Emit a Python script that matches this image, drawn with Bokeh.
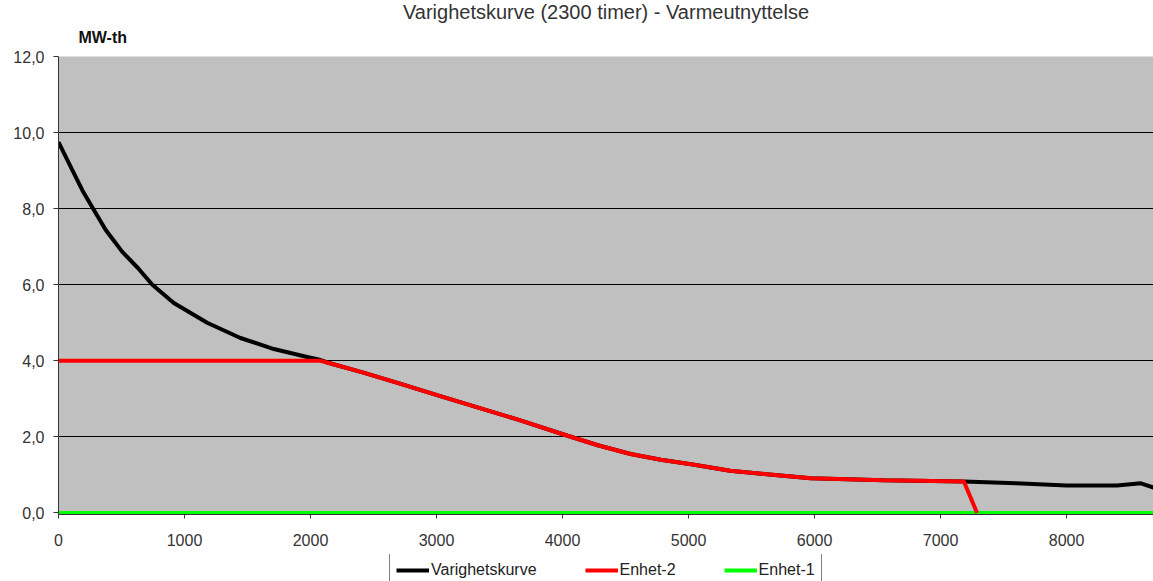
from bokeh.plotting import figure
from bokeh.models import Range1d, Legend, LegendItem, Title
from bokeh.layouts import column
from bokeh.embed import file_html
from bokeh.resources import INLINE

# ---- data ----
hours = [0, 100, 190, 275, 375, 505, 630, 745, 915, 1180, 1444, 1709, 1974, 2080,
         2160, 2420, 2690, 3030, 3640, 4040, 4280, 4540, 4780, 5020, 5330, 5620, 5970,
         6550, 7185, 7600, 8000, 8400, 8590, 8690, 8760]
varighetskurve = [9.75, 9.08, 8.48, 8.0, 7.44, 6.87, 6.44, 6.0, 5.52, 5.0, 4.60, 4.31, 4.10, 4.02,
                  3.93, 3.69, 3.42, 3.07, 2.46, 2.03, 1.78, 1.55, 1.40, 1.28,
                  1.11, 1.02, 0.91, 0.86, 0.83, 0.78, 0.72, 0.72, 0.78, 0.67, 0.62]

enhet2_hours = [0, 2080, 2160, 2420, 2690, 3030, 3640, 4040, 4280, 4540, 4780, 5020, 5330,
                5620, 5970, 6550, 7185, 7290]
enhet2 = [4.0, 4.0, 3.93, 3.69, 3.42, 3.07, 2.46, 2.03, 1.78, 1.55, 1.40, 1.28, 1.11,
          1.02, 0.91, 0.86, 0.83, 0.0]

enhet1_hours = [0, 8760]
enhet1 = [0.0, 0.0]

x_ticks = [0, 1000, 2000, 3000, 4000, 5000, 6000, 7000, 8000]
y_ticks = [0, 2, 4, 6, 8, 10, 12]
y_tick_labels = ["0,0", "2,0", "4,0", "6,0", "8,0", "10,0", "12,0"]

title_text = "Varighetskurve (2300 timer) - Varmeutnyttelse"
unit_text = "MW-th"
series_names = ["Varighetskurve", "Enhet-2", "Enhet-1"]
series_colors = ["black", "#ff0000", "#00ff00"]

FONT = "Liberation Sans"

# ---------------- main chart ----------------
p = figure(width=1153, height=554, output_backend="svg", toolbar_location=None,
           x_range=Range1d(0, 8690), y_range=Range1d(-0.04, 12),
           min_border_left=58, min_border_right=0, min_border_top=56, min_border_bottom=40)

p.title.text = title_text
p.title.align = "center"
p.title.text_font = FONT
p.title.text_font_size = "20px"
p.title.text_font_style = "normal"
p.title.text_color = "#333333"
p.title.standoff = -14

unit_title = Title(text=unit_text, align="left", offset=20, text_font=FONT,
                   text_font_size="16px", text_font_style="bold", text_color="#111111",
                   standoff=22)
p.add_layout(unit_title, "above")

p.background_fill_color = "#c0c0c0"
p.border_fill_color = "white"
p.outline_line_color = None

p.xgrid.visible = False
p.ygrid.grid_line_color = "black"
p.ygrid.grid_line_alpha = 1.0
p.ygrid.grid_line_width = 1

p.xaxis.ticker = x_ticks
p.yaxis.ticker = y_ticks
p.yaxis.major_label_overrides = dict(zip(y_ticks, y_tick_labels))

for ax in (p.xaxis, p.yaxis):
    ax.major_label_text_font = FONT
    ax.major_label_text_font_size = "16px"
    ax.major_label_text_color = "#333333"
    ax.axis_line_color = "#333333"
    ax.major_tick_line_color = "#333333"
    ax.major_tick_in = 0
    ax.minor_tick_in = 0
    ax.minor_tick_out = 0
p.yaxis.major_tick_out = 5
p.yaxis.major_label_standoff = 9
p.xaxis.major_tick_out = 4
p.xaxis.major_label_standoff = 15

p.line(enhet1_hours, enhet1, line_color=series_colors[2], line_width=4)
p.line(hours, varighetskurve, line_color=series_colors[0], line_width=4)
p.line(enhet2_hours, enhet2, line_color=series_colors[1], line_width=4)

# ---------------- legend strip (series repeated out of view, only the legend shows) ----------------
lg = figure(width=1153, height=27, output_backend="svg", toolbar_location=None,
            x_axis_location=None, y_axis_location=None, min_border=0,
            x_range=Range1d(0, 1), y_range=Range1d(100, 101))
lg.outline_line_color = None
lg.background_fill_color = "white"
lg.border_fill_color = "white"
lg.grid.visible = False

proxy_data = [(hours, varighetskurve), (enhet2_hours, enhet2), (enhet1_hours, enhet1)]
proxies = [lg.line(xs, ys, line_color=c, line_width=4)
           for (xs, ys), c in zip(proxy_data, series_colors)]

legend = Legend(items=[LegendItem(label=n, renderers=[r]) for n, r in zip(series_names, proxies)],
                orientation="horizontal", location=(331, -6),
                glyph_width=33, glyph_height=20, label_height=20, label_standoff=2,
                spacing=48, padding=6, margin=0,
                label_text_font=FONT, label_text_font_size="16px", label_text_color="#222222",
                border_line_color="black", border_line_width=1,
                background_fill_color="white", background_fill_alpha=1.0)
lg.add_layout(legend)

layout = column(p, lg, spacing=0)

open("out.html", "w").write(file_html(layout, INLINE))
